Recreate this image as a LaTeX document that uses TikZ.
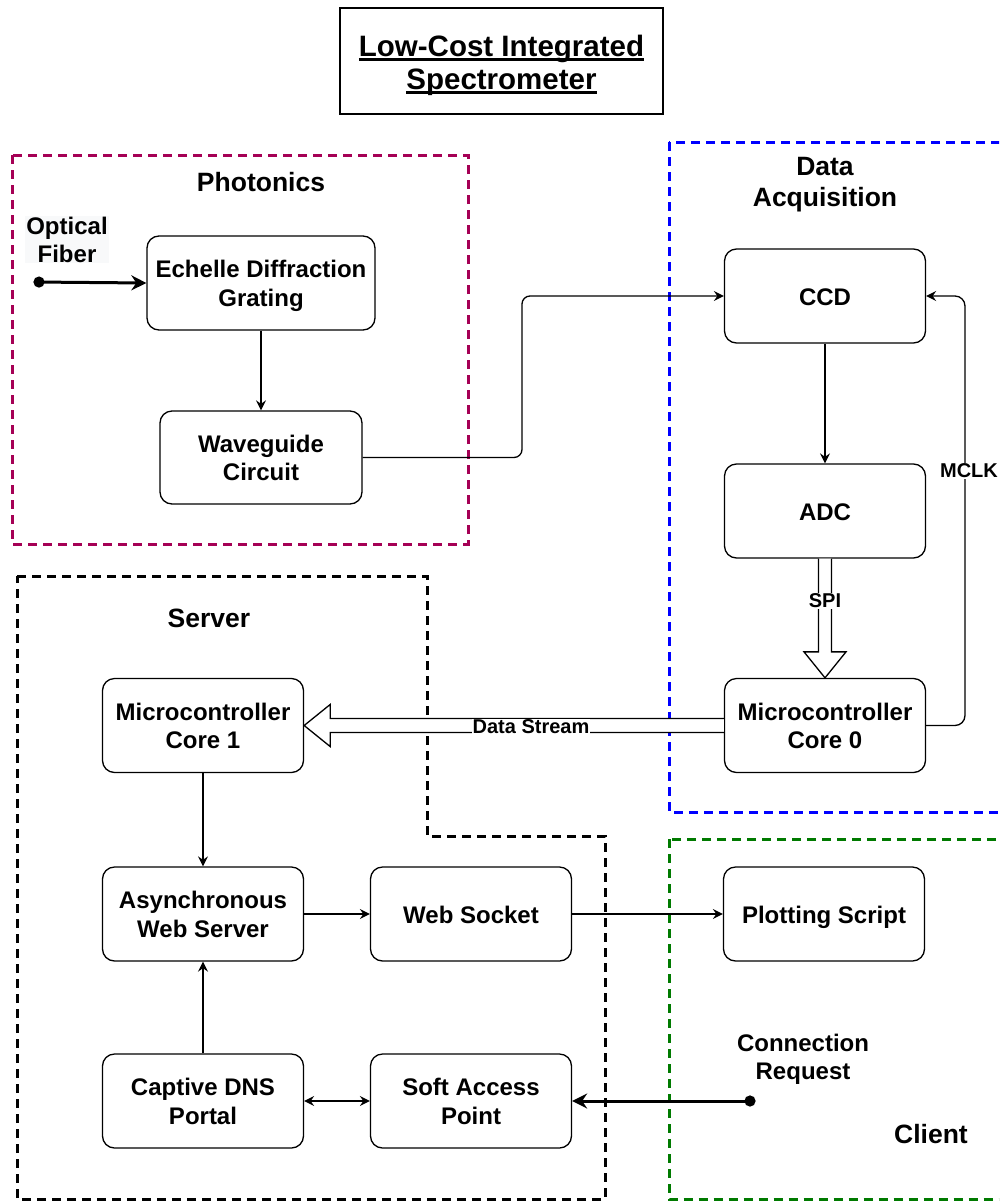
\documentclass[tikz,border=0pt]{standalone}
\usepackage{fontspec}
\setmainfont{Liberation Sans}
\usetikzlibrary{arrows.meta,calc}
\definecolor{phot}{RGB}{165,0,85}
\definecolor{daq}{RGB}{0,0,255}
\definecolor{cli}{RGB}{0,122,0}
\definecolor{ofbg}{RGB}{248,249,250}
\newcommand{\myul}[1]{\setbox0\hbox{#1}\rlap{\rule[-4.5pt]{\wd0}{2.4pt}}\box0}
\tikzset{
  blk/.style={draw, line width=1.3pt, rounded corners=12pt, align=center, inner sep=0pt,
    minimum width=201pt, minimum height=94pt, font=\fontsize{24}{28.3}\selectfont\bfseries,
    text height=23.5pt, text depth=5.5pt},
  blktwo/.style={blk, text height=51.8pt},
  grp/.style={line width=3pt, dash pattern=on 9pt off 6pt},
  gtitle/.style={align=center, font=\fontsize{26.5}{31.5}\selectfont\bfseries},
  lbl/.style={align=center, font=\fontsize{24}{28}\selectfont\bfseries},
  small/.style={fill=white, inner sep=1pt, font=\fontsize{20}{24}\selectfont\bfseries},
  arr/.style={line width=1.3pt, -{Stealth[length=10pt,width=10pt,inset=3.5pt]}},
  darr/.style={line width=1.3pt, {Stealth[length=10pt,width=10pt,inset=3.5pt]}-{Stealth[length=10pt,width=10pt,inset=3.5pt]}},
  tarr/.style={line width=3pt, {Circle[length=11pt]}-{Stealth[length=15pt,width=15pt,inset=5pt]}},
  hollow/.style={line width=1.3pt, fill=white, line join=miter}
}
\begin{document}
\begin{tikzpicture}[x=1pt,y=-1pt]
\useasboundingbox (0,0) rectangle (999,1202);
\clip (0,0) rectangle (999,1202);
\fill[white] (0,0) rectangle (999,1202);

% title
\draw[line width=1.3pt] (340,8) rectangle (663,114);
\node[align=center, inner sep=0pt, font=\fontsize{29.5}{33}\selectfont\bfseries] (title) at (501.5,65)
  {\myul{Low-Cost Integrated}\\\myul{Spectrometer}};

% groups
\draw[grp, draw=phot] (12,155) rectangle (468,544);
\draw[grp, draw=daq] (669,142) rectangle (1012,812);
\draw[grp, draw=black] (17,576) -- (427,576) -- (427,836) -- (605,836) -- (605,1199) -- (17,1199) -- cycle;
\draw[grp, draw=cli] (669,839) rectangle (1012,1199.5);

\node[gtitle] (tphot) at (261,182) {Photonics};
\node[gtitle] (tdaq) at (825,184.5) {Data\\Acquisition};
\node[gtitle] (tsrv) at (209,618) {Server};
\node[gtitle] (tcli) at (931,1134) {Client};

% blocks
\node[blktwo, minimum width=228pt] (ech) at (261,283) {Echelle Diffraction\\Grating};
\node[blktwo, minimum width=202pt, minimum height=93pt] (wg) at (261,457.5) {Waveguide\\Circuit};
\node[blk] (ccd) at (825,296) {CCD};
\node[blk] (adc) at (825,511) {ADC};
\node[blktwo] (mc0) at (825,725.5) {Microcontroller\\Core 0};
\node[blktwo] (mc1) at (203,725.5) {Microcontroller\\Core 1};
\node[blktwo] (aws) at (203,914) {Asynchronous\\Web Server};
\node[blk] (ws) at (471,914) {Web Socket};
\node[blk] (ps) at (824,914) {Plotting Script};
\node[blktwo] (dns) at (203,1101) {Captive DNS\\Portal};
\node[blktwo] (sap) at (471,1101) {Soft Access\\Point};

% free labels
\node[lbl, fill=ofbg, inner sep=1pt] (oflbl) at (67,239.5) {Optical\\Fiber};
\node[lbl] (crlbl) at (803,1059) {Connection\\Request};
\coordinate (fib) at (33.5,282);
\coordinate (cr) at (755.5,1101);
\coordinate (bx) at (522,300);
\coordinate (mx) at (965,300);

% connectors
\draw[tarr] (fib) -- (ech.west);
\draw[arr] (ech.south) -- (wg.north);
\draw[arr, rounded corners=8pt] (wg.east) -- (wg.east -| bx) -- (ccd.west -| bx) -- (ccd.west);
\draw[arr] (ccd.south) -- (adc.north);
\draw[arr, rounded corners=10pt] (mc0.east) -- (mc0.east -| mx) -- (ccd.east -| mx) -- (ccd.east);
\node[small] (mclk) at (969,471) {MCLK};

% SPI hollow arrow
\draw[hollow] ($(adc.south)+(-6.5,0)$) -- ($(mc0.north)+(-6.5,-26)$) -- ($(mc0.north)+(-21,-26)$)
  -- (mc0.north) -- ($(mc0.north)+(21,-26)$) -- ($(mc0.north)+(6.5,-26)$) -- ($(adc.south)+(6.5,0)$);
\node[small] (spi) at (825,601) {SPI};

% Data stream hollow arrow
\draw[hollow] ($(mc0.west)+(0,-7)$) -- ($(mc1.east)+(26,-7)$) -- ($(mc1.east)+(26,-21)$)
  -- (mc1.east) -- ($(mc1.east)+(26,21)$) -- ($(mc1.east)+(26,7)$) -- ($(mc0.west)+(0,7)$);
\node[small] (dstream) at (531,727) {Data Stream};

\draw[arr] (mc1.south) -- (aws.north);
\draw[arr] (aws.east) -- (ws.west);
\draw[arr] (ws.east) -- (ps.west);
\draw[arr] (dns.north) -- (aws.south);
\draw[darr] (dns.east) -- (sap.west);
\draw[tarr] (cr) -- (sap.east);
\end{tikzpicture}
\end{document}
